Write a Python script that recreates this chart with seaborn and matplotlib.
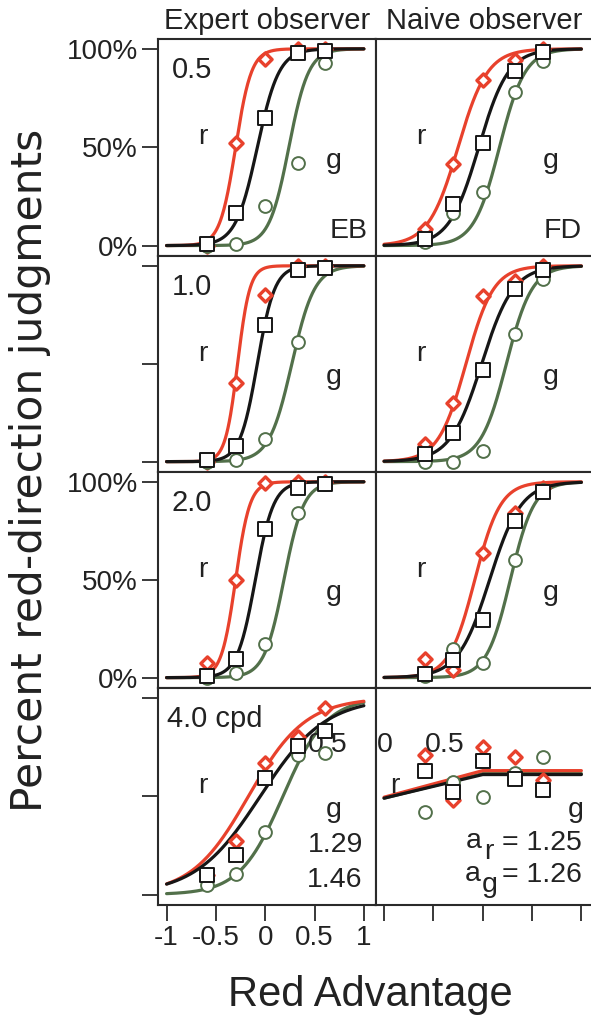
import numpy as np
import pandas as pd
import matplotlib
matplotlib.use("Agg")
import matplotlib.pyplot as plt
import seaborn as sns

# ---------------- data ----------------
X = [-0.59, -0.30, 0.0, 0.33, 0.61]
ROW_LABELS = ["0.5", "1.0", "2.0", "4.0 cpd"]
OBSERVERS = ["Expert observer", "Naive observer"]
OBS_CODES = ["EB", "FD"]

# Expert observer (EB), rows: 0.5, 1.0, 2.0, 4.0 cpd
EB_RED = [[0.00, 0.52, 0.95, 1.00, 1.00],
          [0.00, 0.40, 0.85, 1.00, 1.00],
          [0.075, 0.50, 0.995, 1.00, 1.00],
          [0.10, 0.27, 0.67, 0.80, 0.95]]
EB_BLACK = [[0.01, 0.165, 0.65, 0.98, 0.99],
            [0.007, 0.08, 0.70, 0.98, 0.99],
            [0.007, 0.097, 0.757, 0.97, 0.99],
            [0.10, 0.20, 0.59, 0.753, 0.83]]
EB_GREEN = [[0.00, 0.01, 0.20, 0.42, 0.93],
            [0.00, 0.007, 0.116, 0.61, 0.99],
            [0.00, 0.026, 0.17, 0.84, 0.99],
            [0.05, 0.105, 0.32, 0.71, 0.72]]

# Naive observer (FD)
FD_RED = [[0.085, 0.417, 0.843, 0.945, 1.00],
          [0.09, 0.30, 0.848, 0.92, 1.00],
          [0.097, 0.037, 0.637, 0.84, 0.97],
          [0.71, 0.48, 0.75, 0.70, 0.58]]
FD_BLACK = [[0.034, 0.213, 0.52, 0.886, 0.983],
            [0.04, 0.147, 0.468, 0.882, 0.98],
            [0.017, 0.088, 0.293, 0.80, 0.95],
            [0.63, 0.52, 0.68, 0.585, 0.53]]
FD_GREEN = [[0.02, 0.165, 0.27, 0.78, 0.94],
            [0.00, 0.00, 0.054, 0.65, 0.935],
            [0.01, 0.148, 0.075, 0.60, 0.96],
            [0.42, 0.57, 0.495, 0.62, 0.70]]

# fitted psychometric functions: (midpoint, spread)
EB_FIT_RED = [(-0.30, 0.08), (-0.28, 0.062), (-0.30, 0.072), (-0.17, 0.29)]
EB_FIT_BLACK = [(-0.08, 0.11), (-0.08, 0.088), (-0.10, 0.092), (-0.05, 0.33)]
EB_FIT_GREEN = [(0.24, 0.10), (0.27, 0.115), (0.19, 0.10), (0.18, 0.22)]
FD_FIT_RED = [(-0.25, 0.15), (-0.17, 0.14), (-0.08, 0.13)]
FD_FIT_BLACK = [(-0.04, 0.15), (-0.01, 0.16), (0.07, 0.16)]
FD_FIT_GREEN = [(0.17, 0.13), (0.24, 0.13), (0.28, 0.12)]
# 4.0 cpd naive observer: broken-line fits
FD4_LINE_X = [-1.0, 0.0, 1.0]
FD4_LINE_RED = [0.495, 0.63, 0.63]
FD4_LINE_BLACK = [0.49, 0.61, 0.61]
FD4_LINE_GREEN = [0.49, 0.615, 0.615]

Y_TICKS = [0.0, 0.5, 1.0]
Y_TICKLABELS = ["0%", "50%", "100%"]
X_TICKS = [-1, -0.5, 0, 0.5, 1]
X_TICKLABELS = ["-1", "-0.5", "0", "0.5", "1"]

# ---------------- style ----------------
RED = "#e8412c"
BLACK = "#161616"
GREEN = "#52704a"
SPINE = "#2a2a2a"
TXT = "#222222"

sns.set_theme(style="white")
plt.rcParams["font.family"] = ["Liberation Sans", "DejaVu Sans"]
plt.rcParams["text.color"] = TXT

W, H = 591, 1027
fig = plt.figure(figsize=(W / 100, H / 100), dpi=100)
fig.patch.set_facecolor("white")

COL_EDGES = [158, 375.5, 593]
ROW_EDGES = [39, 256, 472, 688, 905]
XLIM = (-1.087, 1.118)
YLIM = (-0.053, 1.05)


def logistic(x, mu, s):
    return 1.0 / (1.0 + np.exp(-(x - mu) / s))


xs = np.linspace(-1.0, 1.0, 300)

for c in range(2):
    for r in range(4):
        x0, x1 = COL_EDGES[c], COL_EDGES[c + 1]
        y0, y1 = ROW_EDGES[r], ROW_EDGES[r + 1]
        ax = fig.add_axes([x0 / W, 1 - y1 / H, (x1 - x0) / W, (y1 - y0) / H])
        ax.set_facecolor("white")
        reds = (EB_RED if c == 0 else FD_RED)[r]
        blacks = (EB_BLACK if c == 0 else FD_BLACK)[r]
        greens = (EB_GREEN if c == 0 else FD_GREEN)[r]

        # fitted curves
        if c == 1 and r == 3:
            curves = [(FD4_LINE_X, FD4_LINE_GREEN, GREEN),
                      (FD4_LINE_X, FD4_LINE_RED, RED),
                      (FD4_LINE_X, FD4_LINE_BLACK, BLACK)]
        else:
            fr = (EB_FIT_RED if c == 0 else FD_FIT_RED)[r]
            fb = (EB_FIT_BLACK if c == 0 else FD_FIT_BLACK)[r]
            fg = (EB_FIT_GREEN if c == 0 else FD_FIT_GREEN)[r]
            curves = [(xs, logistic(xs, *fg), GREEN),
                      (xs, logistic(xs, *fr), RED),
                      (xs, logistic(xs, *fb), BLACK)]
        for cx, cy, col in curves:
            sns.lineplot(x=np.asarray(cx), y=np.asarray(cy), ax=ax, color=col,
                         lw=2.3, sort=False, estimator=None, zorder=2)

        # data points
        df = pd.DataFrame({"x": X, "red": reds, "black": blacks, "green": greens})
        sns.scatterplot(data=df, x="x", y="red", ax=ax, marker="D", s=45,
                        color="white", edgecolor=RED, linewidth=2.4, zorder=3)
        sns.scatterplot(data=df, x="x", y="green", ax=ax, marker="o", s=85,
                        color="white", edgecolor=GREEN, linewidth=1.4, zorder=4)
        sns.scatterplot(data=df, x="x", y="black", ax=ax, marker="s", s=95,
                        color="white", edgecolor=BLACK, linewidth=1.4, zorder=5)

        ax.set_xlim(*XLIM)
        ax.set_ylim(*YLIM)
        ax.set_xlabel("")
        ax.set_ylabel("")
        for sp in ax.spines.values():
            sp.set_visible(True)
            sp.set_color(SPINE)
            sp.set_linewidth(1.5)

        # ticks
        if c == 0:
            ax.set_yticks(Y_TICKS)
            if r in (0, 2):
                ax.set_yticklabels(Y_TICKLABELS)
            else:
                ax.set_yticklabels(["", "", ""])
        else:
            ax.set_yticks([])
        if r == 3:
            ax.set_xticks(X_TICKS)
            ax.set_xticklabels(X_TICKLABELS if c == 0 else [""] * 5)
        else:
            ax.set_xticks([])
        ax.tick_params(axis="both", direction="out", length=11.5, width=1.3,
                       color=SPINE, labelsize=20, labelcolor=TXT, pad=3,
                       left=(c == 0), bottom=(r == 3))

        # in-panel annotations
        rx = -0.63 if not (c == 1 and r == 3) else -0.89
        gx = 0.69 if not (c == 1 and r == 3) else 0.94
        ax.text(rx, 0.55, "r", fontsize=20.5, ha="center", va="center")
        ax.text(gx, 0.43, "g", fontsize=20.5, ha="center", va="center")
        if c == 0:
            ax.text(-1.0 if r == 3 else -0.95, 0.89, ROW_LABELS[r], fontsize=21,
                    ha="left", va="center")
        if r == 0:
            ax.text(1.04 if c == 0 else 1.0, 0.075, OBS_CODES[c], fontsize=20.5,
                    ha="right", va="center")
            ax.set_title(OBSERVERS[c], fontsize=21, pad=7, color=TXT)

        if c == 0 and r == 3:
            ax.text(0.63, 0.76, "0.5", fontsize=20.5, ha="center", va="center")
            ax.text(0.99, 0.25, "1.29", fontsize=20.5, ha="right", va="center")
            ax.text(0.99, 0.075, "1.46", fontsize=20.5, ha="right", va="center")
        if c == 1 and r == 3:
            ax.text(-0.99, 0.76, "0", fontsize=20.5, ha="center", va="center")
            ax.text(-0.39, 0.76, "0.5", fontsize=20.5, ha="center", va="center")
            ax.text(-0.09, 0.27, "a", fontsize=20.5, ha="center", va="center")
            ax.text(0.06, 0.215, "r", fontsize=20.5, ha="center", va="center")
            ax.text(1.01, 0.262, "= 1.25", fontsize=20.5, ha="right", va="center")
            ax.text(-0.10, 0.105, "a", fontsize=20.5, ha="center", va="center")
            ax.text(0.07, 0.05, "g", fontsize=20.5, ha="center", va="center")
            ax.text(1.01, 0.097, "= 1.26", fontsize=20.5, ha="right", va="center")

fig.text(370 / W, 1 - 995 / H, "Red Advantage", fontsize=30, ha="center",
         va="center", color=TXT)
fig.text(30 / W, 1 - 470 / H, "Percent red-direction judgments", fontsize=30.5,
         rotation=90, ha="center", va="center", color=TXT,
         family=["DejaVu Sans"])

fig.savefig("out.png", dpi=100, facecolor="white")
